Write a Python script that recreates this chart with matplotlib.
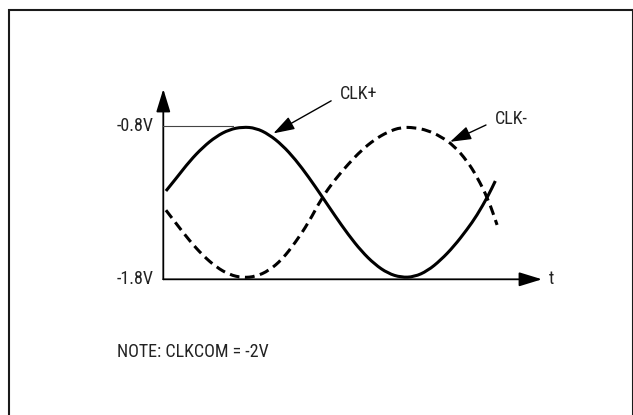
import matplotlib
matplotlib.use("Agg")
import matplotlib.pyplot as plt
from matplotlib import font_manager
from matplotlib.patches import FancyArrowPatch, Rectangle, PathPatch
from matplotlib.path import Path

# ---- data (phase in degrees, level in volts) ----
t_clk_pos = [3, 15, 30, 45, 60, 75, 90, 105, 120, 135, 150, 165, 180, 195,
             210, 225, 240, 255, 270, 285, 300, 315, 330, 345, 356, 369, 377]
v_clk_pos = [-1.225, -1.14, -1.03, -0.94, -0.87, -0.825, -0.808, -0.815, -0.857,
             -0.926, -1.02, -1.134, -1.259, -1.387, -1.509, -1.617, -1.702,
             -1.761, -1.788, -1.784, -1.745, -1.675, -1.585, -1.475, -1.385, -1.255, -1.16]

t_clk_neg = [3, 15, 30, 45, 60, 75, 90, 105, 120, 135, 150, 165, 180, 195,
             210, 225, 240, 255, 270, 285, 300, 315, 330, 345, 356, 369, 379]
v_clk_neg = [-1.35, -1.44, -1.55, -1.645, -1.72, -1.77, -1.79, -1.782, -1.743,
             -1.67, -1.56, -1.43, -1.27, -1.15, -1.05, -0.96, -0.89, -0.84,
             -0.81, -0.812, -0.83, -0.87, -0.93, -1.03, -1.13, -1.28, -1.446]

v_high = -0.8
v_low = -1.8
level_labels = ['-0.8V', '-1.8V']
note_text = 'NOTE: CLKCOM = -2V'

# ---- font: prefer a condensed sans ----
entries = font_manager.fontManager.ttflist
names = {f.name for f in entries}
font_kw = {}
fs = 13
for cand in ['Liberation Sans Narrow', 'Roboto Condensed', 'Open Sans Condensed',
             'Noto Sans Condensed', 'DejaVu Sans Condensed', 'Arial Narrow']:
    if cand in names:
        font_kw = dict(family=[cand, 'DejaVu Sans'])
        break
else:
    cond = [f for f in entries if f.name in ('Noto Sans', 'Roboto', 'Open Sans', 'DejaVu Sans')
            and str(f.stretch) in ('condensed', 'semi-condensed', 'extra-condensed', '75', '87')]
    if cond:
        font_kw = dict(family=[cond[0].name, 'DejaVu Sans'], stretch=cond[0].stretch)
    else:
        font_kw = dict(family=['Liberation Sans', 'DejaVu Sans'])
        fs = 11.5

W, H = 633, 415
fig = plt.figure(figsize=(W / 100, H / 100), dpi=100)
fig.patch.set_facecolor('white')

fig.patches.append(Rectangle((8.7 / W, -0.05), (632.5 - 8.7) / W, 1.05 - 10 / H,
                             transform=fig.transFigure, fill=False,
                             edgecolor='#1a1a1a', linewidth=1.5))

ax = fig.add_axes([163.3 / W, (H - 279.3) / H, 378.7 / W, (279.3 - 89) / H])
ax.set_xlim(0, 430)
ax.set_ylim(v_low, -0.561)
ax.axis('off')

txt_color = '#222222'


def smooth_path(xs, ys):
    pts = list(zip(xs, ys))
    verts = [pts[0]]
    codes = [Path.MOVETO]
    for i in range(1, len(pts) - 1):
        mid = ((pts[i][0] + pts[i + 1][0]) / 2, (pts[i][1] + pts[i + 1][1]) / 2)
        verts += [pts[i], mid]
        codes += [Path.CURVE3, Path.CURVE3]
    verts.append(pts[-1])
    codes.append(Path.LINETO)
    return Path(verts, codes)


for start, end in [((0, v_low), (430, v_low)), ((0, v_low), (0, -0.561))]:
    ax.add_patch(FancyArrowPatch(start, end, arrowstyle='-|>,head_length=14,head_width=4.3',
                                 mutation_scale=1, shrinkA=0, shrinkB=0,
                                 color='black', linewidth=1.3, clip_on=False))

ax.plot([0, 79], [v_high, v_high], color='#444444', linewidth=0.8, clip_on=False)

ax.add_patch(PathPatch(smooth_path(t_clk_pos, v_clk_pos), fill=False, edgecolor='black',
                       linewidth=2.2, capstyle='butt', clip_on=False))
ax.add_patch(PathPatch(smooth_path(t_clk_neg, v_clk_neg), fill=False, edgecolor='black',
                       linewidth=2.2, linestyle=(0, (3.2, 1.8)), capstyle='butt',
                       clip_on=False))

ax.text(-11.5, v_high, level_labels[0], ha='right', va='center', fontsize=fs,
        color=txt_color, **font_kw)
ax.text(-11.5, v_low, level_labels[1], ha='right', va='center', fontsize=fs,
        color=txt_color, **font_kw)
ax.text(438, v_low, 't', ha='left', va='center', fontsize=fs, color=txt_color, **font_kw)

arrow_kw = dict(arrowstyle='-|>,head_length=13,head_width=4.2', mutation_scale=1,
                color='black', linewidth=1.0, shrinkA=5, shrinkB=0,
                relpos=(0, 0.4))
ax.annotate('CLK+', xy=(125, -0.85), xytext=(200.6, -0.594),
            ha='left', va='center', fontsize=fs, color=txt_color,
            arrowprops=arrow_kw, annotation_clip=False, **font_kw)
ax.annotate('CLK-', xy=(325.6, -0.905), xytext=(376.7, -0.756),
            ha='left', va='center', fontsize=fs, color=txt_color,
            arrowprops=arrow_kw, annotation_clip=False, **font_kw)

fig.text(117.3 / W, 1 - 351.7 / H, note_text, ha='left', va='center',
         fontsize=fs, color=txt_color, **font_kw)

fig.savefig('out.png', dpi=100)
